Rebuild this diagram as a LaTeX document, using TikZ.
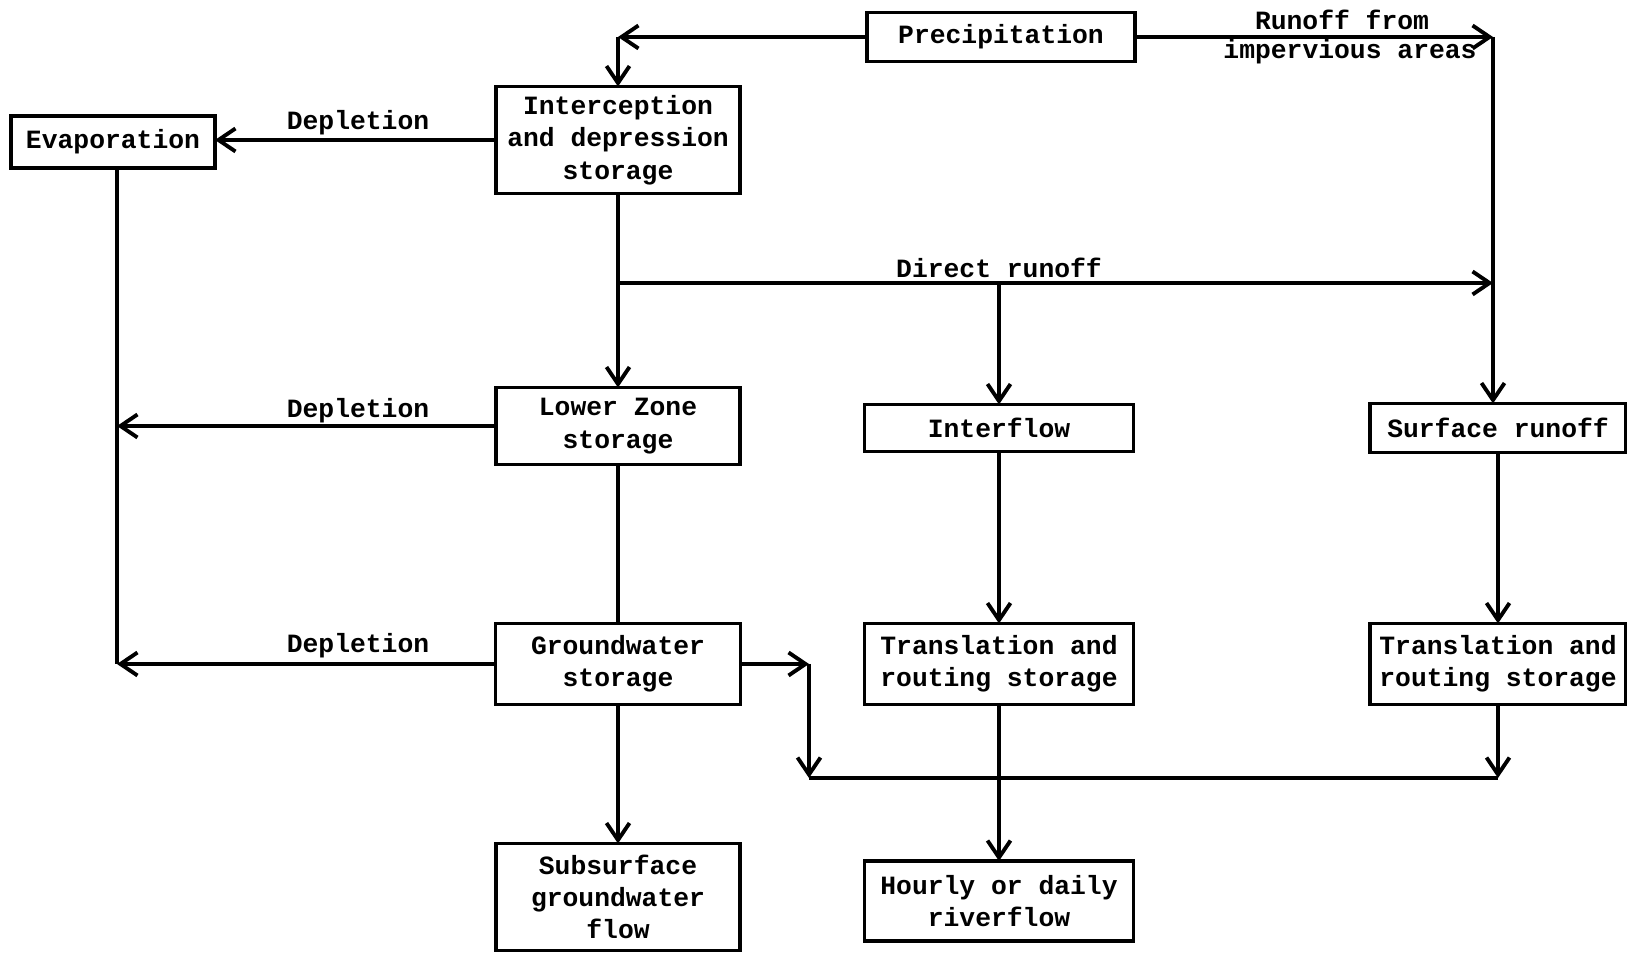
\documentclass[tikz,border=0pt]{standalone}
\usepackage{fontspec}
\setmonofont{Liberation Mono}
\usetikzlibrary{arrows.meta}

\begin{document}
\begin{tikzpicture}[x=0.1mm, y=-0.1mm, line width=1.1pt,
  every node/.style={font=\ttfamily\bfseries\fontsize{7.5}{9.2}\selectfont, align=center, inner sep=1pt, outer sep=0pt},
  box/.style={draw, line width=1.1pt},
  flow/.style={-{Straight Barb[length=1.7mm,width=2.3mm]}}]
\useasboundingbox (0,0) rectangle (1627,953);

% boxes
\node[box, minimum width=26.8mm, minimum height=4.9mm] (precip) at (1001,37) {Precipitation};
\node[box, minimum width=24.4mm, minimum height=10.7mm] (intercep) at (618,140) {Interception\\and depression\\storage};
\node[box, minimum width=20.4mm, minimum height=5.2mm] (evap) at (113,142) {Evaporation};
\node[box, minimum width=24.4mm, minimum height=7.7mm] (lower) at (618,426) {Lower Zone\\storage};
\node[box, minimum width=26.9mm, minimum height=4.7mm] (iflow) at (999,428) {Interflow};
\node[box, minimum width=25.6mm, minimum height=4.9mm] (surf) at (1498,428) {Surface runoff};
\node[box, minimum width=24.5mm, minimum height=8.1mm] (ground) at (618,664) {Groundwater\\storage};
\node[box, minimum width=26.9mm, minimum height=8.1mm] (trmid) at (999,664) {Translation and\\routing storage};
\node[box, minimum width=25.6mm, minimum height=8.1mm] (trright) at (1498,664) {Translation and\\routing storage};
\node[box, minimum width=24.4mm, minimum height=10.7mm] (subsurf) at (618,897) {Subsurface\\groundwater\\flow};
\node[box, minimum width=26.9mm, minimum height=8.0mm] (hourly) at (999,901) {Hourly or daily\\riverflow};

% labels
\node (runoff) at (1342,20) {Runoff from};
\node (imperv) at (1350,52) {impervious areas};
\node (direct) at (999,268) {Direct runoff};
\node (dep1) at (358,123) {Depletion};
\node (dep2) at (358,411) {Depletion};
\node (dep3) at (358,646) {Depletion};

% corners
\coordinate (pl) at (618,37);
\coordinate (pr) at (1493,37);
\coordinate (dl) at (618,283);
\coordinate (ev) at (117,142);
\coordinate (gc) at (809,664);
\coordinate (gb) at (809,778);

% top
\draw[flow] (precip) -- (pl);
\draw[flow] (pl) -- (intercep.north);
\draw[flow] (precip) -- (pr);
\draw[flow] (pr) -- (pr |- surf.north);

% direct runoff
\draw[flow] (intercep.south) -- (lower.north);
\draw[flow] (dl) -- (pr |- dl);
\draw[flow] (dl -| iflow) -- (iflow.north);

% depletion
\draw[flow] (intercep.west) -- (intercep.west -| evap.east);
\draw (ev |- evap.south) -- (ev |- ground.west);
\draw[flow] (lower.west) -- (lower.west -| ev);
\draw[flow] (ground.west) -- (ground.west -| ev);

% lower part
\draw (lower.south) -- (ground.north);
\draw[flow] (ground.south) -- (subsurf.north);
\draw[flow] (iflow) -- (trmid);
\draw[flow] (surf) -- (trright);
\draw[flow] (trmid) -- (hourly);
\draw[flow] (ground.east) -- (gc);
\draw[flow] (gc) -- (gb);
\draw (gb) -- (gb -| trright.south);
\draw[flow] (trright.south) -- (gb -| trright.south);
\end{tikzpicture}
\end{document}
